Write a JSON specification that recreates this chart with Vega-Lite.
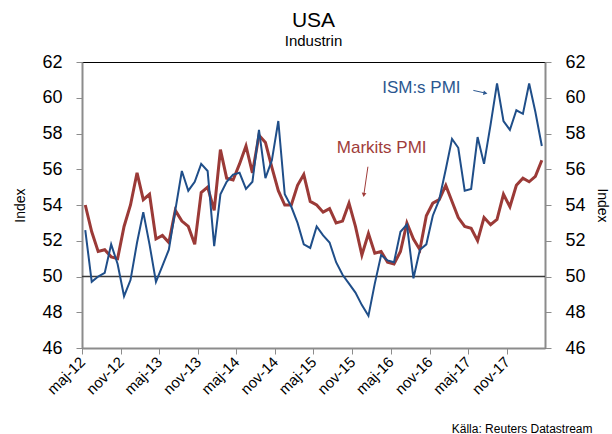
{
"$schema": "https://vega.github.io/schema/vega-lite/v6.json",
"width": 463, "height": 286,
"autosize": {"type": "none"},
"padding": {"left": 82, "top": 62, "right": 67, "bottom": 86},
"config": {
  "font": "Liberation Sans",
  "locale": {"time": {"dateTime": "%A %e %B %Y %X", "date": "%Y-%m-%d", "time": "%H:%M:%S", "periods": ["fm", "em"],
    "days": ["söndag", "måndag", "tisdag", "onsdag", "torsdag", "fredag", "lördag"],
    "shortDays": ["sön", "mån", "tis", "ons", "tor", "fre", "lör"],
    "months": ["januari", "februari", "mars", "april", "maj", "juni", "juli", "augusti", "september", "oktober", "november", "december"],
    "shortMonths": ["jan", "feb", "mar", "apr", "maj", "jun", "jul", "aug", "sep", "okt", "nov", "dec"]}},
  "view": {"stroke": "#000000", "strokeWidth": 1},
  "axis": {"grid": false, "domainColor": "#8c8c8c", "domainWidth": 2, "tickColor": "#8c8c8c", "tickWidth": 1, "labelColor": "#000000", "titleColor": "#000000", "titleFontWeight": "normal", "labelFont": "Liberation Sans", "titleFont": "Liberation Sans", "labelOverlap": false},
  "axisX": {"labelOverlap": false, "labelBound": false, "labelFlush": false}
},
"title": {"text": "USA", "subtitle": "Industrin", "fontSize": 21, "subtitleFontSize": 15, "fontWeight": "normal", "font": "Liberation Sans", "subtitleFont": "Liberation Sans", "color": "#000000", "subtitleColor": "#000000", "anchor": "middle", "offset": 4, "subtitlePadding": 3},
"data": {"values": [
{"m":"2012-05","s":"ISM","v":52.6},{"m":"2012-06","s":"ISM","v":49.7},{"m":"2012-07","s":"ISM","v":50.0},{"m":"2012-08","s":"ISM","v":50.2},{"m":"2012-09","s":"ISM","v":51.8},{"m":"2012-10","s":"ISM","v":50.7},{"m":"2012-11","s":"ISM","v":48.9},{"m":"2012-12","s":"ISM","v":49.8},
{"m":"2013-01","s":"ISM","v":51.9},{"m":"2013-02","s":"ISM","v":53.6},{"m":"2013-03","s":"ISM","v":51.8},{"m":"2013-04","s":"ISM","v":49.7},{"m":"2013-05","s":"ISM","v":50.6},{"m":"2013-06","s":"ISM","v":51.5},{"m":"2013-07","s":"ISM","v":53.7},{"m":"2013-08","s":"ISM","v":55.9},{"m":"2013-09","s":"ISM","v":54.8},{"m":"2013-10","s":"ISM","v":55.3},{"m":"2013-11","s":"ISM","v":56.3},{"m":"2013-12","s":"ISM","v":55.9},
{"m":"2014-01","s":"ISM","v":51.7},{"m":"2014-02","s":"ISM","v":54.6},{"m":"2014-03","s":"ISM","v":55.3},{"m":"2014-04","s":"ISM","v":55.7},{"m":"2014-05","s":"ISM","v":55.8},{"m":"2014-06","s":"ISM","v":54.9},{"m":"2014-07","s":"ISM","v":55.3},{"m":"2014-08","s":"ISM","v":58.2},{"m":"2014-09","s":"ISM","v":55.5},{"m":"2014-10","s":"ISM","v":56.5},{"m":"2014-11","s":"ISM","v":58.7},{"m":"2014-12","s":"ISM","v":54.6},
{"m":"2015-01","s":"ISM","v":53.9},{"m":"2015-02","s":"ISM","v":53.0},{"m":"2015-03","s":"ISM","v":51.8},{"m":"2015-04","s":"ISM","v":51.6},{"m":"2015-05","s":"ISM","v":52.8},{"m":"2015-06","s":"ISM","v":52.3},{"m":"2015-07","s":"ISM","v":51.9},{"m":"2015-08","s":"ISM","v":50.8},{"m":"2015-09","s":"ISM","v":50.1},{"m":"2015-10","s":"ISM","v":49.6},{"m":"2015-11","s":"ISM","v":49.1},{"m":"2015-12","s":"ISM","v":48.4},
{"m":"2016-01","s":"ISM","v":47.8},{"m":"2016-02","s":"ISM","v":49.6},{"m":"2016-03","s":"ISM","v":51.2},{"m":"2016-04","s":"ISM","v":50.9},{"m":"2016-05","s":"ISM","v":50.8},{"m":"2016-06","s":"ISM","v":52.5},{"m":"2016-07","s":"ISM","v":52.9},{"m":"2016-08","s":"ISM","v":49.9},{"m":"2016-09","s":"ISM","v":51.5},{"m":"2016-10","s":"ISM","v":51.8},{"m":"2016-11","s":"ISM","v":53.4},{"m":"2016-12","s":"ISM","v":54.3},
{"m":"2017-01","s":"ISM","v":56.0},{"m":"2017-02","s":"ISM","v":57.7},{"m":"2017-03","s":"ISM","v":57.2},{"m":"2017-04","s":"ISM","v":54.8},{"m":"2017-05","s":"ISM","v":54.9},{"m":"2017-06","s":"ISM","v":57.8},{"m":"2017-07","s":"ISM","v":56.3},{"m":"2017-08","s":"ISM","v":58.5},{"m":"2017-09","s":"ISM","v":60.8},{"m":"2017-10","s":"ISM","v":58.7},{"m":"2017-11","s":"ISM","v":58.2},{"m":"2017-12","s":"ISM","v":59.3},
{"m":"2018-01","s":"ISM","v":59.1},{"m":"2018-02","s":"ISM","v":60.8},{"m":"2018-03","s":"ISM","v":59.2},{"m":"2018-04","s":"ISM","v":57.3},
{"m":"2012-05","s":"Markit","v":54.0},{"m":"2012-06","s":"Markit","v":52.5},{"m":"2012-07","s":"Markit","v":51.4},{"m":"2012-08","s":"Markit","v":51.5},{"m":"2012-09","s":"Markit","v":51.1},{"m":"2012-10","s":"Markit","v":51.0},{"m":"2012-11","s":"Markit","v":52.8},{"m":"2012-12","s":"Markit","v":54.0},
{"m":"2013-01","s":"Markit","v":55.8},{"m":"2013-02","s":"Markit","v":54.3},{"m":"2013-03","s":"Markit","v":54.6},{"m":"2013-04","s":"Markit","v":52.1},{"m":"2013-05","s":"Markit","v":52.3},{"m":"2013-06","s":"Markit","v":51.9},{"m":"2013-07","s":"Markit","v":53.7},{"m":"2013-08","s":"Markit","v":53.1},{"m":"2013-09","s":"Markit","v":52.8},{"m":"2013-10","s":"Markit","v":51.8},{"m":"2013-11","s":"Markit","v":54.7},{"m":"2013-12","s":"Markit","v":55.0},
{"m":"2014-01","s":"Markit","v":53.7},{"m":"2014-02","s":"Markit","v":57.1},{"m":"2014-03","s":"Markit","v":55.5},{"m":"2014-04","s":"Markit","v":55.4},{"m":"2014-05","s":"Markit","v":56.3},{"m":"2014-06","s":"Markit","v":57.3},{"m":"2014-07","s":"Markit","v":55.8},{"m":"2014-08","s":"Markit","v":57.9},{"m":"2014-09","s":"Markit","v":57.5},{"m":"2014-10","s":"Markit","v":56.1},{"m":"2014-11","s":"Markit","v":54.8},{"m":"2014-12","s":"Markit","v":54.0},
{"m":"2015-01","s":"Markit","v":54.0},{"m":"2015-02","s":"Markit","v":55.1},{"m":"2015-03","s":"Markit","v":55.7},{"m":"2015-04","s":"Markit","v":54.2},{"m":"2015-05","s":"Markit","v":54.0},{"m":"2015-06","s":"Markit","v":53.6},{"m":"2015-07","s":"Markit","v":53.8},{"m":"2015-08","s":"Markit","v":53.0},{"m":"2015-09","s":"Markit","v":53.1},{"m":"2015-10","s":"Markit","v":54.1},{"m":"2015-11","s":"Markit","v":52.8},{"m":"2015-12","s":"Markit","v":51.2},
{"m":"2016-01","s":"Markit","v":52.4},{"m":"2016-02","s":"Markit","v":51.3},{"m":"2016-03","s":"Markit","v":51.4},{"m":"2016-04","s":"Markit","v":50.8},{"m":"2016-05","s":"Markit","v":50.7},{"m":"2016-06","s":"Markit","v":51.4},{"m":"2016-07","s":"Markit","v":53.0},{"m":"2016-08","s":"Markit","v":52.1},{"m":"2016-09","s":"Markit","v":51.5},{"m":"2016-10","s":"Markit","v":53.4},{"m":"2016-11","s":"Markit","v":54.1},{"m":"2016-12","s":"Markit","v":54.3},
{"m":"2017-01","s":"Markit","v":55.1},{"m":"2017-02","s":"Markit","v":54.2},{"m":"2017-03","s":"Markit","v":53.3},{"m":"2017-04","s":"Markit","v":52.8},{"m":"2017-05","s":"Markit","v":52.7},{"m":"2017-06","s":"Markit","v":52.0},{"m":"2017-07","s":"Markit","v":53.3},{"m":"2017-08","s":"Markit","v":52.9},{"m":"2017-09","s":"Markit","v":53.2},{"m":"2017-10","s":"Markit","v":54.6},{"m":"2017-11","s":"Markit","v":53.9},{"m":"2017-12","s":"Markit","v":55.1},
{"m":"2018-01","s":"Markit","v":55.5},{"m":"2018-02","s":"Markit","v":55.3},{"m":"2018-03","s":"Markit","v":55.6},{"m":"2018-04","s":"Markit","v":56.5}
]},
"layer": [
  {
    "data": {"values": [{}]},
    "mark": {"type": "rule", "color": "#3a3a3a", "strokeWidth": 1.5},
    "encoding": {
      "y": {"datum": 50, "type": "quantitative", "scale": {"domain": [46, 62], "nice": false},
        "axis": {"orient": "right", "title": "Index", "titleFontSize": 14, "labelFontSize": 18, "tickSize": 6, "labelPadding": 14, "titlePadding": 9, "values": [46,48,50,52,54,56,58,60,62]}}
    }
  },
  {
    "transform": [{"filter": "datum.s == 'Markit'"}],
    "mark": {"type": "line", "color": "#9B3A37", "strokeWidth": 3},
    "encoding": {
      "x": {"field": "m", "timeUnit": "utcyearmonth", "bandPosition": 0.5, "type": "temporal",
        "scale": {"domain": [{"year": 2012, "month": 5, "date": 1, "utc": true}, {"year": 2018, "month": 5, "date": 1, "utc": true}], "nice": false},
        "axis": {"title": "Källa: Reuters Datastream", "titleFontSize": 12, "titleX": 510, "titleY": 84, "titleAlign": "right", "titleBaseline": "alphabetic", "titleAnchor": "end",
          "values": [
            {"year": 2012, "month": 5, "date": 1, "utc": true}, {"year": 2012, "month": 11, "date": 1, "utc": true},
            {"year": 2013, "month": 5, "date": 1, "utc": true}, {"year": 2013, "month": 11, "date": 1, "utc": true},
            {"year": 2014, "month": 5, "date": 1, "utc": true}, {"year": 2014, "month": 11, "date": 1, "utc": true},
            {"year": 2015, "month": 5, "date": 1, "utc": true}, {"year": 2015, "month": 11, "date": 1, "utc": true},
            {"year": 2016, "month": 5, "date": 1, "utc": true}, {"year": 2016, "month": 11, "date": 1, "utc": true},
            {"year": 2017, "month": 5, "date": 1, "utc": true}, {"year": 2017, "month": 11, "date": 1, "utc": true}],
          "format": "%b-%y",
          "labelOverlap": false, "labelBound": false,
          "labelAngle": -45, "labelAlign": "right", "labelBaseline": "middle", "labelFontSize": 15, "tickSize": 6, "labelPadding": 5}},
      "y": {"field": "v", "type": "quantitative", "scale": {"domain": [46, 62], "nice": false},
        "axis": {"orient": "left", "title": "Index", "titleFontSize": 14, "labelFontSize": 18, "tickSize": 6, "labelPadding": 14, "titlePadding": 14, "values": [46,48,50,52,54,56,58,60,62]}}
    }
  },
  {
    "transform": [{"filter": "datum.s == 'ISM'"}],
    "mark": {"type": "line", "color": "#1F4E89", "strokeWidth": 2},
    "encoding": {
      "x": {"field": "m", "timeUnit": "utcyearmonth", "bandPosition": 0.5, "type": "temporal"},
      "y": {"field": "v", "type": "quantitative", "axis": null}
    }
  },
  {
    "data": {"values": [{}]},
    "mark": {"type": "text", "text": "ISM:s PMI", "color": "#2B5790", "fontSize": 17, "font": "Liberation Sans", "align": "center", "baseline": "middle"},
    "encoding": {
      "x": {"datum": {"year": 2016, "month": 9, "date": 23, "utc": true}, "type": "temporal"},
      "y": {"datum": 60.56, "type": "quantitative", "axis": null}
    }
  },
  {
    "data": {"values": [{}]},
    "mark": {"type": "text", "text": "Markits PMI", "color": "#A03C3A", "fontSize": 17, "font": "Liberation Sans", "align": "center", "baseline": "middle"},
    "encoding": {
      "x": {"datum": {"year": 2016, "month": 3, "date": 19, "utc": true}, "type": "temporal"},
      "y": {"datum": 57.17, "type": "quantitative", "axis": null}
    }
  },
  {
    "data": {"values": [{}]},
    "mark": {"type": "rule", "color": "#2B5790", "strokeWidth": 1},
    "encoding": {
      "x": {"datum": {"year": 2017, "month": 5, "date": 27, "utc": true}, "type": "temporal"},
      "x2": {"datum": {"year": 2017, "month": 7, "date": 20, "utc": true}},
      "y": {"datum": 60.41, "type": "quantitative", "axis": null},
      "y2": {"datum": 60.27}
    }
  },
  {
    "data": {"values": [{}]},
    "mark": {"type": "point", "shape": "triangle", "filled": true, "size": 22, "angle": 100, "color": "#2B5790", "opacity": 1},
    "encoding": {
      "x": {"datum": {"year": 2017, "month": 7, "date": 20, "utc": true}, "type": "temporal"},
      "y": {"datum": 60.27, "type": "quantitative", "axis": null}
    }
  },
  {
    "data": {"values": [{}]},
    "mark": {"type": "rule", "color": "#A03C3A", "strokeWidth": 1},
    "encoding": {
      "x": {"datum": {"year": 2016, "month": 1, "date": 14, "utc": true}, "type": "temporal"},
      "x2": {"datum": {"year": 2015, "month": 12, "date": 26, "utc": true}},
      "y": {"datum": 56.14, "type": "quantitative", "axis": null},
      "y2": {"datum": 54.6}
    }
  },
  {
    "data": {"values": [{}]},
    "mark": {"type": "point", "shape": "triangle", "filled": true, "size": 22, "angle": 188, "color": "#A03C3A", "opacity": 1},
    "encoding": {
      "x": {"datum": {"year": 2015, "month": 12, "date": 26, "utc": true}, "type": "temporal"},
      "y": {"datum": 54.6, "type": "quantitative", "axis": null}
    }
  }
],
"resolve": {"axis": {"y": "independent"}}
}
